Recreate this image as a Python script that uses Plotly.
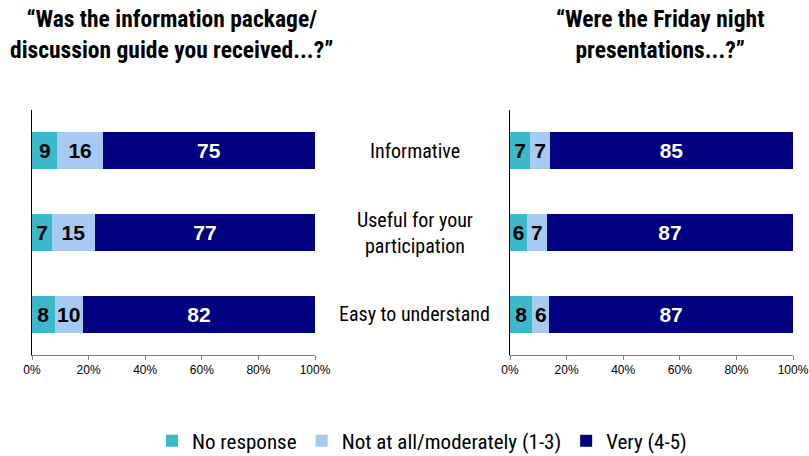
import plotly.graph_objects as go

categories = ["Informative", "Useful for your<br>participation", "Easy to understand"]
series_names = ["No response", "Not at all/moderately (1-3)", "Very (4-5)"]
colors = ["#3BB9CC", "#A6CAF0", "#000080"]
text_colors = ["black", "black", "white"]

left_no_response = [9, 7, 8]
left_not_at_all = [16, 15, 10]
left_very = [75, 77, 82]

right_no_response = [7, 6, 8]
right_not_at_all = [7, 7, 6]
right_very = [85, 87, 87]

left_title = "“Was the information package/<br>discussion guide you received...?”"
right_title = "“Were the Friday night<br>presentations...?”"
tick_vals = [0, 20, 40, 60, 80, 100]
tick_text = ["0%", "20%", "40%", "60%", "80%", "100%"]

NARROW = "Roboto Condensed, Liberation Sans Narrow, sans-serif"
ARIAL = "Liberation Sans, Arial, sans-serif"

W = 809
H = 456


def px(x):
    return x / W


def py(y):
    return 1 - y / H


fig = go.Figure()
left_sets = [left_no_response, left_not_at_all, left_very]
right_sets = [right_no_response, right_not_at_all, right_very]
for i, name in enumerate(series_names):
    fig.add_trace(go.Bar(
        y=list(range(len(categories))), x=left_sets[i], orientation="h", name=name,
        marker=dict(color=colors[i], line=dict(width=0)),
        text=[str(v) for v in left_sets[i]], textposition="inside",
        insidetextanchor="middle", textangle=0, constraintext="none",
        textfont=dict(family=ARIAL, size=21, color=text_colors[i], weight="bold"),
        xaxis="x", yaxis="y", width=0.45, legendgroup=name, showlegend=True,
        hoverinfo="skip"))
for i, name in enumerate(series_names):
    fig.add_trace(go.Bar(
        y=list(range(len(categories))), x=right_sets[i], orientation="h", name=name,
        marker=dict(color=colors[i], line=dict(width=0)),
        text=[str(v) for v in right_sets[i]], textposition="inside",
        insidetextanchor="middle", textangle=0, constraintext="none",
        textfont=dict(family=ARIAL, size=21, color=text_colors[i], weight="bold"),
        xaxis="x2", yaxis="y2", width=0.45, legendgroup=name, showlegend=False,
        hoverinfo="skip"))

ydom = [py(355), py(110)]
xcommon = dict(range=[0, 100], tickvals=tick_vals, ticktext=tick_text, automargin=False,
               showgrid=False, zeroline=False, showline=True, linecolor="#808080",
               linewidth=1, ticks="outside", ticklen=4, tickcolor="#808080",
               tickfont=dict(family=ARIAL, size=12, color="black"))
ycommon = dict(range=[2.5, -0.5], showticklabels=False, showgrid=False, zeroline=False,
               showline=True, linecolor="black", linewidth=1, ticks="", domain=ydom,
               automargin=False)

annotations = [
    dict(text=left_title, x=px(171), y=py(35), xref="paper", yref="paper",
         showarrow=False, font=dict(family=NARROW, size=23.5, color="black", weight="bold"),
         xanchor="center", yanchor="middle"),
    dict(text=right_title, x=px(660), y=py(35), xref="paper", yref="paper",
         showarrow=False, font=dict(family=NARROW, size=23.5, color="black", weight="bold"),
         xanchor="center", yanchor="middle"),
]
for j, c in enumerate(categories):
    annotations.append(dict(text=c, x=px(415), y=j, xref="paper", yref="y",
                            showarrow=False, xanchor="center", yanchor="middle",
                            font=dict(family=NARROW, size=20, color="black")))

fig.update_layout(
    width=W, height=H, margin=dict(l=0, r=0, t=0, b=0, autoexpand=False),
    paper_bgcolor="white", plot_bgcolor="white",
    barmode="stack", barnorm="percent",
    xaxis=dict(domain=[px(32), px(315)], anchor="y", **xcommon),
    yaxis=dict(anchor="x", **ycommon),
    xaxis2=dict(domain=[px(510), px(793)], anchor="y2", **xcommon),
    yaxis2=dict(anchor="x2", **ycommon),
    annotations=annotations,
    showlegend=True,
    legend=dict(orientation="h", x=px(422), xanchor="center", y=py(441), yanchor="middle",
                font=dict(family=NARROW, size=21, color="black"), itemwidth=30,
                traceorder="normal", bgcolor="rgba(0,0,0,0)"),
)

fig.write_html(
    "out.html",
    config={"displayModeBar": False},
    post_script="document.body.style.margin='0px';document.body.style.overflow='hidden';",
)
